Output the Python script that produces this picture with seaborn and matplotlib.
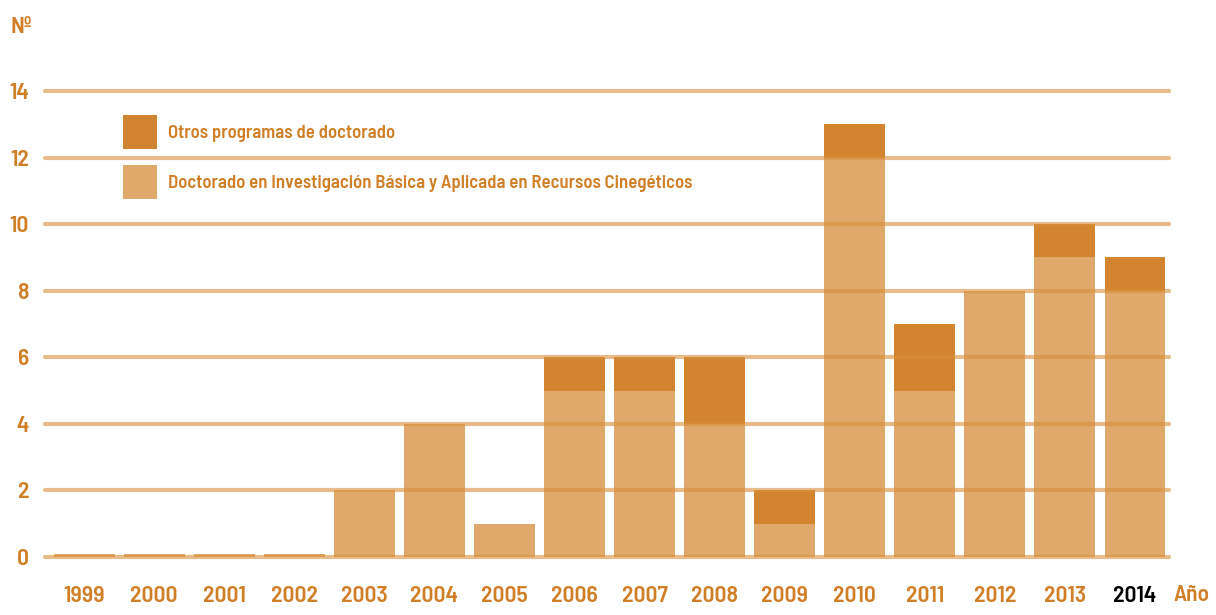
import matplotlib
matplotlib.use("Agg")
import matplotlib.pyplot as plt
import seaborn as sns
import pandas as pd
from matplotlib.patches import Patch
from matplotlib import font_manager

years = ["1999", "2000", "2001", "2002", "2003", "2004", "2005", "2006",
         "2007", "2008", "2009", "2010", "2011", "2012", "2013", "2014"]
programa_irec = [0.1, 0.1, 0.1, 0.1, 2, 4, 1, 5, 5, 4, 1, 12, 5, 8, 9, 8]
otros = [0, 0, 0, 0, 0, 0, 0, 1, 1, 2, 1, 1, 2, 0, 1, 1]
y_ticks = [0, 2, 4, 6, 8, 10, 12, 14]
legend_labels = ["Otros programas de doctorado",
                 "Doctorado en Investigación Básica y Aplicada en Recursos Cinegéticos"]

sns.set_theme(style="white")
names = {f.name for f in font_manager.fontManager.ttflist}
fam = "DejaVu Sans"
for cand in ["Barlow Semi Condensed", "Barlow Condensed", "Roboto Condensed", "Liberation Sans Narrow"]:
    if cand in names:
        fam = cand
        break
plt.rcParams["font.family"] = [fam, "DejaVu Sans"]
plt.rcParams["font.weight"] = "semibold"

TXT = "#d07f26"
LIGHT = "#e0a86a"
DARK = "#d2852e"

df = pd.DataFrame({"year": years, "base": programa_irec,
                   "total": [a + b for a, b in zip(programa_irec, otros)]})

W, H = 1216, 615
fig = plt.figure(figsize=(W / 100, H / 100), dpi=100)
ax = fig.add_axes([45 / W, (H - 557) / H, (1169 - 45) / W, (557 - 91) / H])

sns.barplot(data=df, x="year", y="total", order=years, color=DARK,
            saturation=1, width=0.87, ax=ax, zorder=2)
sns.barplot(data=df, x="year", y="base", order=years, color=LIGHT,
            saturation=1, width=0.87, ax=ax, zorder=3)
for p in ax.patches:
    p.set_linewidth(0)

ax.set_xlim(-0.557, 15.485)
ax.set_ylim(0, 14)
for yv in y_ticks:
    ax.axhline(yv, color="#d8903d", alpha=0.6, lw=3.0, zorder=4, clip_on=False)

for s in ax.spines.values():
    s.set_visible(False)
ax.grid(False)
ax.set_xlabel("")
ax.set_ylabel("")
ax.set_yticks(y_ticks)
ax.set_yticklabels([str(v) for v in y_ticks])
ax.tick_params(axis="y", length=0, pad=11.5, labelsize=17, labelcolor=TXT)
ax.tick_params(axis="x", length=0, pad=21, labelsize=17, labelcolor=TXT)
for lab in ax.get_yticklabels() + ax.get_xticklabels():
    lab.set_fontweight("semibold")
for lab in ax.get_xticklabels():
    if lab.get_text() == "2014":
        lab.set_color("black")

fig.text(10 / W, 1 - 27 / H, "Nº", color=TXT, fontsize=17, fontweight="semibold",
         ha="left", va="center")
fig.text(1174 / W, 1 - 595 / H, "Año", color=TXT, fontsize=17, fontweight="semibold",
         ha="left", va="center")

handles = [Patch(facecolor=DARK, edgecolor="none"), Patch(facecolor=LIGHT, edgecolor="none")]
leg = ax.legend(handles, legend_labels, loc="upper left",
                bbox_to_anchor=(123 / W, 1 - 115 / H), bbox_transform=fig.transFigure,
                frameon=False, fontsize=13.5, handlelength=1.8, handleheight=2.42,
                labelspacing=0.85, handletextpad=0.6, borderpad=0, borderaxespad=0)
for t in leg.get_texts():
    t.set_color(TXT)
    t.set_fontweight("semibold")

fig.savefig("out.png", dpi=100)
